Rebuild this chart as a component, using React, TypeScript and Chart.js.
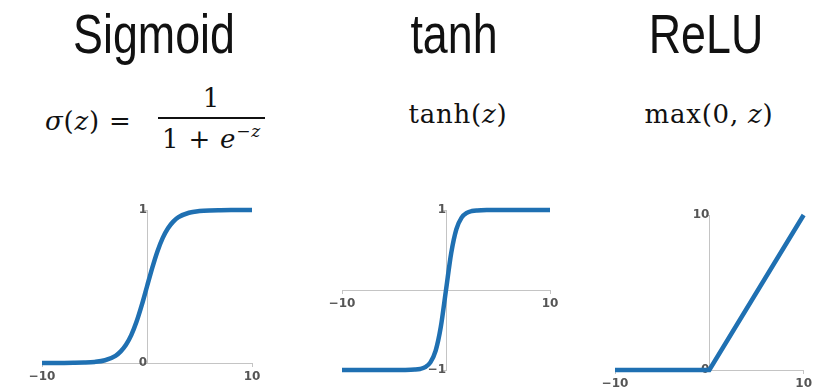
import React, { useEffect, useRef } from 'react';
import { Chart, registerables } from 'chart.js';

Chart.register(...registerables);

// Sampled activation curves over z in [-10, 10]
const sigmoidZ = [-10, -9, -8, -7, -6, -5, -4, -3, -2.5, -2, -1.5, -1, -0.5, 0, 0.5, 1, 1.5, 2, 2.5, 3, 4, 5, 6, 7, 8, 9, 10];
const sigmoidValues = [0.0, 0.0001, 0.0003, 0.0009, 0.0025, 0.0067, 0.018, 0.047, 0.076, 0.119, 0.182, 0.269, 0.378, 0.5, 0.622, 0.731, 0.818, 0.881, 0.924, 0.953, 0.982, 0.993, 0.9975, 0.999, 0.9997, 0.9999, 1.0];

const tanhZ = [-10, -8, -6, -5, -4, -3, -2.5, -2, -1.5, -1, -0.5, 0, 0.5, 1, 1.5, 2, 2.5, 3, 4, 5, 6, 8, 10];
const tanhValues = [-1.0, -1.0, -1.0, -0.9999, -0.9993, -0.995, -0.987, -0.964, -0.905, -0.762, -0.462, 0, 0.462, 0.762, 0.905, 0.964, 0.987, 0.995, 0.9993, 0.9999, 1.0, 1.0, 1.0];

const reluZ = [-10, 0, 10];
const reluValues = [0, 0, 10];

// Axis ticks
const xTicks = [-10, 10];
const sigmoidYTicks = [0, 1];
const tanhYTicks = [-1, 1];
const reluYTicks = [0, 10];

const titles = ['Sigmoid', 'tanh', 'ReLU'];

const LINE_COLOR = '#1f70b2';
const AXIS_COLOR = '#c4c4c4';
const TICK_COLOR = '#555555';

const fmt = (v: number | string) => String(v).replace('-', '\u2212');

type PanelProps = {
  xs: number[];
  ys: number[];
  yTicks: number[];
  smooth: boolean;
  left: number;
  top: number;
  width: number;
  height: number;
  padding: { left: number; right: number; top: number; bottom: number };
};

function ActivationChart(props: PanelProps) {
  const ref = useRef<HTMLCanvasElement | null>(null);
  useEffect(() => {
    if (!ref.current) return;
    const { xs, ys, yTicks, smooth, padding } = props;
    const tickFont = { family: 'DejaVu Sans', size: 12, weight: 'bold' as const };
    const chart = new Chart(ref.current, {
      type: 'line',
      data: {
        datasets: [
          {
            data: xs.map((x, i) => ({ x, y: ys[i] })),
            borderColor: LINE_COLOR,
            borderWidth: 4.5,
            borderCapStyle: 'butt',
            pointRadius: 0,
            fill: false,
            tension: 0,
            cubicInterpolationMode: smooth ? 'monotone' : 'default',
            clip: false as any,
          },
        ],
      },
      options: {
        animation: false,
        responsive: false,
        maintainAspectRatio: false,
        layout: { padding },
        plugins: { legend: { display: false }, tooltip: { enabled: false } },
        scales: {
          x: {
            type: 'linear',
            min: xTicks[0],
            max: xTicks[xTicks.length - 1],
            position: { y: 0 } as any,
            afterBuildTicks: (s: any) => {
              s.ticks = xTicks.map((v) => ({ value: v }));
            },
            ticks: {
              callback: (v: any) => fmt(v),
              font: tickFont,
              color: TICK_COLOR,
              padding: 4,
              maxRotation: 0,
              autoSkip: false,
            },
            grid: { display: true, drawOnChartArea: false, drawTicks: true, tickLength: 3, color: AXIS_COLOR },
            border: { display: true, color: AXIS_COLOR, width: 1 },
          },
          y: {
            type: 'linear',
            min: yTicks[0],
            max: yTicks[yTicks.length - 1],
            position: { x: 0 } as any,
            afterBuildTicks: (s: any) => {
              s.ticks = yTicks.map((v) => ({ value: v }));
            },
            ticks: {
              callback: (v: any) => fmt(v),
              font: tickFont,
              color: TICK_COLOR,
              padding: 2,
              autoSkip: false,
            },
            grid: { display: true, drawOnChartArea: false, drawTicks: true, tickLength: 3, color: AXIS_COLOR },
            border: { display: true, color: AXIS_COLOR, width: 1 },
          },
        },
      } as any,
    });
    return () => chart.destroy();
  }, []);
  return (
    <canvas
      ref={ref}
      width={props.width}
      height={props.height}
      style={{ position: 'absolute', left: props.left, top: props.top, width: props.width, height: props.height }}
    />
  );
}

const titleStyle: React.CSSProperties = {
  position: 'absolute',
  top: 6,
  transform: 'translateX(-50%) scaleX(0.8)',
  whiteSpace: 'nowrap',
  fontFamily: '"Liberation Sans", Arial, sans-serif',
  fontSize: 56,
  lineHeight: '56px',
  color: '#111',
};

const mathFont = '"DejaVu Serif", "Liberation Serif", serif';
const mathStyle: React.CSSProperties = {
  position: 'absolute',
  whiteSpace: 'nowrap',
  fontFamily: mathFont,
  fontSize: 26,
  lineHeight: '26px',
  letterSpacing: '0.8px',
  color: '#111',
};

export default function App() {
  return (
    <div style={{ position: 'absolute', left: 0, top: 0, width: 816, height: 390, background: '#fff', overflow: 'hidden' }}>
      <div style={{ ...titleStyle, left: 154 }}>{titles[0]}</div>
      <div style={{ ...titleStyle, left: 454 }}>{titles[1]}</div>
      <div style={{ ...titleStyle, left: 706 }}>{titles[2]}</div>

      {/* sigmoid formula */}
      <div style={{ ...mathStyle, left: 45, top: 108 }}>
        <i>σ</i>(<i>z</i>) =
      </div>
      <div style={{ ...mathStyle, left: 158, width: 107, top: 85, textAlign: 'center' }}>1</div>
      <div style={{ position: 'absolute', left: 158, width: 107, top: 117, height: 1.5, background: '#111' }} />
      <div style={{ ...mathStyle, left: 156, width: 111, top: 126, textAlign: 'center' }}>
        1 + <i>e</i>
        <sup style={{ fontSize: 17, lineHeight: 0, verticalAlign: 0, position: 'relative', top: -11 }}>
          −<i>z</i>
        </sup>
      </div>

      <div style={{ ...mathStyle, left: 458, top: 101, transform: 'translateX(-50%)' }}>
        tanh(<i>z</i>)
      </div>
      <div style={{ ...mathStyle, left: 709, top: 101, transform: 'translateX(-50%)' }}>
        max(0, <i>z</i>)
      </div>

      <ActivationChart
        xs={sigmoidZ}
        ys={sigmoidValues}
        yTicks={sigmoidYTicks}
        smooth={true}
        left={20}
        top={195}
        width={250}
        height={195}
        padding={{ left: 22, right: 18, top: 15, bottom: 27 }}
      />
      <ActivationChart
        xs={tanhZ}
        ys={tanhValues}
        yTicks={tanhYTicks}
        smooth={true}
        left={320}
        top={195}
        width={250}
        height={190}
        padding={{ left: 22, right: 20, top: 15, bottom: 15 }}
      />
      <ActivationChart
        xs={reluZ}
        ys={reluValues}
        yTicks={reluYTicks}
        smooth={false}
        left={595}
        top={195}
        width={221}
        height={195}
        padding={{ left: 20, right: 8, top: 20, bottom: 20 }}
      />
    </div>
  );
}
